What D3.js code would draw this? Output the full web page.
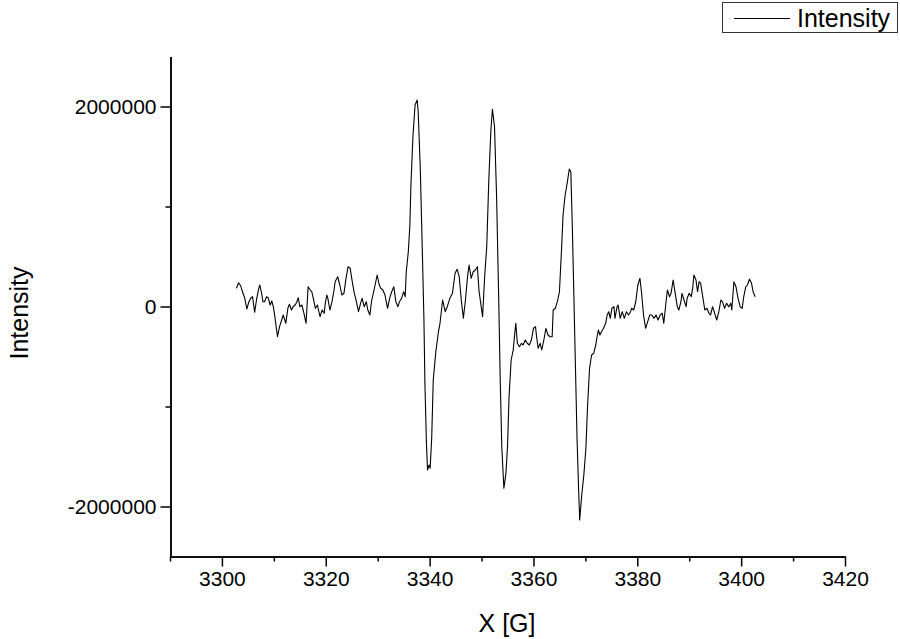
<!DOCTYPE html>
<html lang="en">
<head>
<meta charset="UTF-8">
<title>Intensity vs X [G]</title>
<script src="https://d3js.org/d3.v7.min.js"></script>
<style>
    body { margin: 0; background: #fff; }
    svg text { font-family: "Liberation Sans", Arial, sans-serif; fill: #000; }
    .axis path, .axis line { stroke: #000; stroke-width: 1.5; }
</style>
</head>
<body>
<svg width="900" height="639"></svg>
<script>
// field values (G) and signal
var fieldG = [
    3302.8, 3303.2, 3303.6, 3304.0, 3304.4, 3304.8, 3305.2, 3305.6, 3305.9, 3306.3,
    3306.7, 3307.1, 3307.3, 3307.7, 3307.9, 3308.2, 3308.6, 3308.9, 3309.3, 3309.6,
    3309.9, 3310.2, 3310.7, 3311.1, 3311.4, 3311.8, 3312.3, 3312.7, 3313.0, 3313.4,
    3313.7, 3314.1, 3314.4, 3314.7, 3315.0, 3315.4, 3315.8, 3316.2, 3316.6, 3317.0,
    3317.3, 3317.6, 3318.0, 3318.4, 3318.6, 3318.9, 3319.3, 3319.7, 3319.9, 3320.2,
    3320.4, 3320.8, 3321.2, 3321.6, 3321.8, 3322.3, 3322.7, 3323.1, 3323.5, 3323.9,
    3324.3, 3324.7, 3325.1, 3325.5, 3325.9, 3326.3, 3326.7, 3327.0, 3327.4, 3327.8,
    3328.1, 3328.5, 3328.8, 3329.3, 3329.9, 3330.3, 3330.6, 3331.0, 3331.4, 3331.9,
    3332.3, 3332.7, 3333.1, 3333.5, 3333.9, 3334.2, 3334.6, 3335.0, 3335.3, 3335.5,
    3335.9, 3336.2, 3336.4, 3336.8, 3337.2, 3337.6, 3337.8, 3338.2, 3338.6, 3338.9,
    3339.1, 3339.4, 3339.6, 3339.9, 3340.1, 3340.4, 3340.7, 3341.2, 3341.7, 3342.0,
    3342.5, 3343.0, 3343.4, 3343.9, 3344.4, 3344.9, 3345.3, 3345.7, 3346.1, 3346.5,
    3346.9, 3347.3, 3347.6, 3348.0, 3348.4, 3348.8, 3349.2, 3349.5, 3349.8, 3350.2,
    3350.6, 3351.0, 3351.4, 3351.8, 3352.1, 3352.5, 3352.9, 3353.3, 3353.6, 3353.9,
    3354.3, 3354.7, 3355.0, 3355.3, 3355.7, 3356.1, 3356.4, 3356.6, 3356.9, 3357.3,
    3357.7, 3358.0, 3358.4, 3358.8, 3359.2, 3359.6, 3360.0, 3360.4, 3360.6, 3360.9,
    3361.3, 3361.6, 3362.0, 3362.4, 3362.8, 3363.2, 3363.6, 3363.8, 3364.2, 3364.6,
    3365.0, 3365.4, 3365.7, 3366.1, 3366.5, 3366.9, 3367.2, 3367.5, 3367.8, 3368.1,
    3368.4, 3368.7, 3368.9, 3369.3, 3369.7, 3370.1, 3370.4, 3370.8, 3371.2, 3371.6,
    3372.0, 3372.2, 3372.5, 3372.8, 3373.1, 3373.5, 3373.9, 3374.2, 3374.5, 3374.8,
    3375.1, 3375.5, 3375.7, 3376.1, 3376.3, 3376.7, 3377.1, 3377.5, 3377.9, 3378.3,
    3378.7, 3378.9, 3379.3, 3379.7, 3380.1, 3380.5, 3380.8, 3381.2, 3381.6, 3382.0,
    3382.4, 3382.8, 3383.2, 3383.6, 3384.0, 3384.4, 3384.8, 3385.1, 3385.5, 3385.8,
    3386.2, 3386.5, 3386.9, 3387.3, 3387.7, 3388.0, 3388.4, 3388.6, 3389.0, 3389.4,
    3389.6, 3390.0, 3390.4, 3390.7, 3390.9, 3391.3, 3391.6, 3391.9, 3392.2, 3392.6,
    3393.0, 3393.4, 3393.8, 3394.1, 3394.5, 3394.9, 3395.3, 3395.7, 3396.1, 3396.4,
    3396.8, 3397.2, 3397.6, 3398.0, 3398.2, 3398.6, 3399.0, 3399.4, 3399.8, 3400.2,
    3400.5, 3400.9, 3401.2, 3401.6, 3402.0, 3402.3, 3402.7
];
var intensity = [
    182000, 238000, 208000, 142000, 82000, -25000, 48000, 88000, 98000, -58000,
    82000, 182000, 215000, 115000, 48000, 48000, 98000, 88000, 15000, 55000,
    -2000, -102000, -302000, -202000, -152000, -85000, -168000, -18000, 22000, -35000,
    -2000, 15000, 42000, 88000, -2000, 15000, -68000, -168000, 198000, 165000,
    148000, 82000, -18000, 15000, -35000, -102000, -35000, -68000, 32000, 115000,
    82000, -35000, 48000, 165000, 248000, 298000, 215000, 115000, 132000, 282000,
    398000, 382000, 248000, 132000, 48000, -52000, 32000, 82000, -2000, 48000,
    -35000, -85000, 48000, 165000, 315000, 215000, 182000, 165000, 115000, -18000,
    82000, 148000, 198000, 48000, -2000, 48000, 82000, 148000, 98000, 348000,
    548000, 815000, 1215000, 1715000, 2015000, 2065000, 1948000, 1382000, 548000, -118000,
    -785000, -1385000, -1635000, -1585000, -1618000, -1318000, -735000, -450000, -252000, -168000,
    65000, -52000, -2000, 82000, 132000, 332000, 372000, 298000, 65000, -118000,
    65000, 298000, 415000, 282000, 348000, 365000, 398000, 165000, 48000, -102000,
    298000, 598000, 1265000, 1765000, 1972000, 1798000, 1098000, 98000, -735000, -1402000,
    -1818000, -1668000, -1402000, -902000, -535000, -435000, -268000, -168000, -368000, -402000,
    -368000, -385000, -335000, -368000, -385000, -335000, -218000, -202000, -302000, -418000,
    -368000, -435000, -335000, -218000, -285000, -302000, -302000, -35000, -18000, 48000,
    145000, 565000, 915000, 1115000, 1235000, 1375000, 1345000, 765000, 65000, -635000,
    -1335000, -1835000, -2135000, -1885000, -1685000, -1418000, -1018000, -618000, -485000, -468000,
    -385000, -318000, -235000, -285000, -252000, -218000, -168000, -85000, -52000, -118000,
    -18000, -2000, -118000, -2000, 15000, -118000, -52000, -118000, -52000, -85000,
    -52000, -18000, -35000, 48000, 215000, 282000, 148000, -85000, -218000, -152000,
    -85000, -85000, -118000, -85000, -135000, -85000, -68000, -168000, 32000, 165000,
    98000, 132000, 265000, 132000, -2000, -35000, 48000, 132000, 65000, -2000,
    82000, 132000, 98000, 198000, 315000, 265000, 148000, 248000, 232000, 98000,
    -35000, -18000, -68000, -85000, -2000, -68000, -135000, -52000, 65000, 48000,
    -18000, 32000, -2000, 32000, -35000, 248000, 198000, 82000, -2000, -18000,
    98000, 198000, 215000, 272000, 232000, 148000, 98000
];

var xMajorTicks = [3300, 3320, 3340, 3360, 3380, 3400, 3420];
var xMinorTicks = [3290, 3310, 3330, 3350, 3370, 3390, 3410];
var yMajorTicks = [-2000000, 0, 2000000];
var yMinorTicks = [-1000000, 1000000];

var svg = d3.select("svg");

var x = d3.scaleLinear().domain([3290, 3420]).range([170, 845]);
var y = d3.scaleLinear().domain([-2500000, 2500000]).range([556.5, 56.5]);

// plain hyphen for negatives, like the original
var plain = function(d) { return String(d); };

// bottom axis
svg.append("g")
    .attr("class", "axis")
    .attr("transform", "translate(0,556.5)")
    .call(d3.axisBottom(x).tickValues(xMinorTicks).tickSize(5).tickSizeOuter(0).tickFormat(""));
var xa = svg.append("g")
    .attr("class", "axis")
    .attr("transform", "translate(0,556.5)")
    .call(d3.axisBottom(x).tickValues(xMajorTicks).tickSize(10).tickSizeOuter(0).tickPadding(5).tickFormat(plain));
xa.selectAll("text").attr("font-size", "21px").style("font-family", "'Liberation Sans', Arial, sans-serif");

// left axis
svg.append("g")
    .attr("class", "axis")
    .attr("transform", "translate(170.5,0)")
    .call(d3.axisLeft(y).tickValues(yMinorTicks).tickSize(5).tickSizeOuter(0).tickFormat(""));
var ya = svg.append("g")
    .attr("class", "axis")
    .attr("transform", "translate(170.5,0)")
    .call(d3.axisLeft(y).tickValues(yMajorTicks).tickSize(10).tickSizeOuter(0).tickPadding(4).tickFormat(plain));
ya.selectAll("text").attr("font-size", "21px").style("font-family", "'Liberation Sans', Arial, sans-serif");

// the spectrum
var line = d3.line()
    .x(function(d, i) { return x(fieldG[i]); })
    .y(function(d) { return y(d); });

svg.append("path")
    .datum(intensity)
    .attr("fill", "none")
    .attr("stroke", "#000")
    .attr("stroke-width", 1.1)
    .attr("stroke-linejoin", "round")
    .attr("d", line);

// axis titles
svg.append("text")
    .attr("x", 507)
    .attr("y", 632)
    .attr("text-anchor", "middle")
    .attr("font-size", "25px")
    .text("X [G]");

svg.append("text")
    .attr("transform", "translate(28,313) rotate(-90)")
    .attr("text-anchor", "middle")
    .attr("font-size", "25px")
    .text("Intensity");

// legend
var lg = svg.append("g");
lg.append("rect")
    .attr("x", 722.5).attr("y", 2.5)
    .attr("width", 175).attr("height", 30)
    .attr("fill", "#fff").attr("stroke", "#333").attr("stroke-width", 1);
lg.append("line")
    .attr("x1", 734).attr("x2", 790)
    .attr("y1", 18.5).attr("y2", 18.5)
    .attr("stroke", "#000").attr("stroke-width", 1);
lg.append("text")
    .attr("x", 797).attr("y", 27)
    .attr("font-size", "25px")
    .text("Intensity");
</script>
</body>
</html>
